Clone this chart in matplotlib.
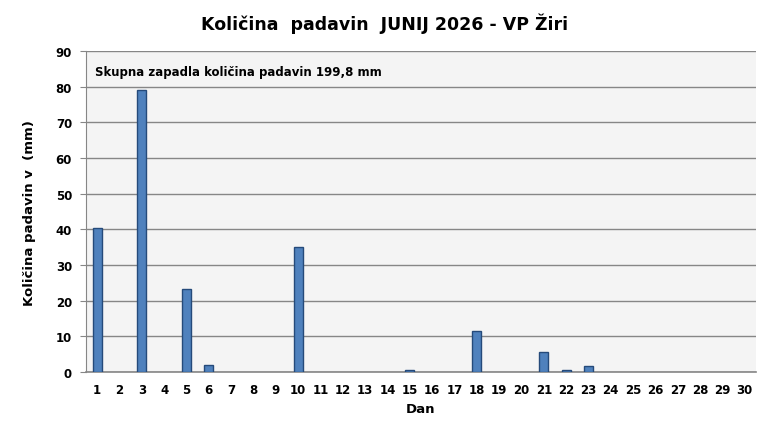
import matplotlib
matplotlib.use('Agg')
import matplotlib.pyplot as plt
import numpy as np

days = list(range(1, 31))
rain = [40.5, 0, 79.1, 0, 23.4, 1.9, 0, 0, 0, 35.0,
        0, 0, 0, 0, 0.6, 0, 0, 11.4, 0, 0,
        5.6, 0.6, 1.7, 0, 0, 0, 0, 0, 0, 0]
y_ticks = list(range(0, 100, 10))
title = 'Količina  padavin  JUNIJ 2026 - VP Žiri'
note = 'Skupna zapadla količina padavin 199,8 mm'

plt.rcParams['font.family'] = ['DejaVu Sans']
fig = plt.figure(figsize=(7.7, 4.39), dpi=100)
ax = fig.add_axes([0.1117, 0.150, 0.870, 0.7315])
ax.set_facecolor('#f4f4f4')

x = np.arange(len(days))
# no outline on empty days, otherwise a stray line sits on the axis
edges = ['#254a7a' if r > 0 else 'none' for r in rain]
ax.bar(x, rain, width=0.4, color='#4f81bd', edgecolor=edges, linewidth=1.0, zorder=3)

ax.set_xlim(-0.5, len(days) - 0.5)
ax.set_ylim(0, 90)
ax.set_yticks(y_ticks)
ax.set_yticklabels([str(t) for t in y_ticks], fontsize=8.5, fontweight='bold')
ax.set_xticks(x)
ax.set_xticklabels([str(d) for d in days], fontsize=8.5, fontweight='bold')
ax.tick_params(axis='x', length=0, pad=8)
ax.tick_params(axis='y', length=4, color='#868686', pad=6)
ax.grid(axis='y', color='#868686', linewidth=1.0, zorder=1)

for s in ['top', 'right']:
    ax.spines[s].set_visible(False)
ax.spines['left'].set_color('#868686')
ax.spines['bottom'].set_color('#868686')
ax.spines['bottom'].set_linewidth(1.2)

ax.set_xlabel('Dan', fontsize=9.5, fontweight='bold', labelpad=4)
ax.set_ylabel('Količina padavin v  (mm)', fontsize=9.5, fontweight='bold', labelpad=14)
ax.text(0.013, 0.955, note, transform=ax.transAxes, fontsize=8.5, fontweight='bold',
        va='top', ha='left')
fig.text(0.5, 0.945, title, ha='center', va='center', fontsize=12.5, fontweight='bold')

fig.savefig('out.png', dpi=100, facecolor='white')
